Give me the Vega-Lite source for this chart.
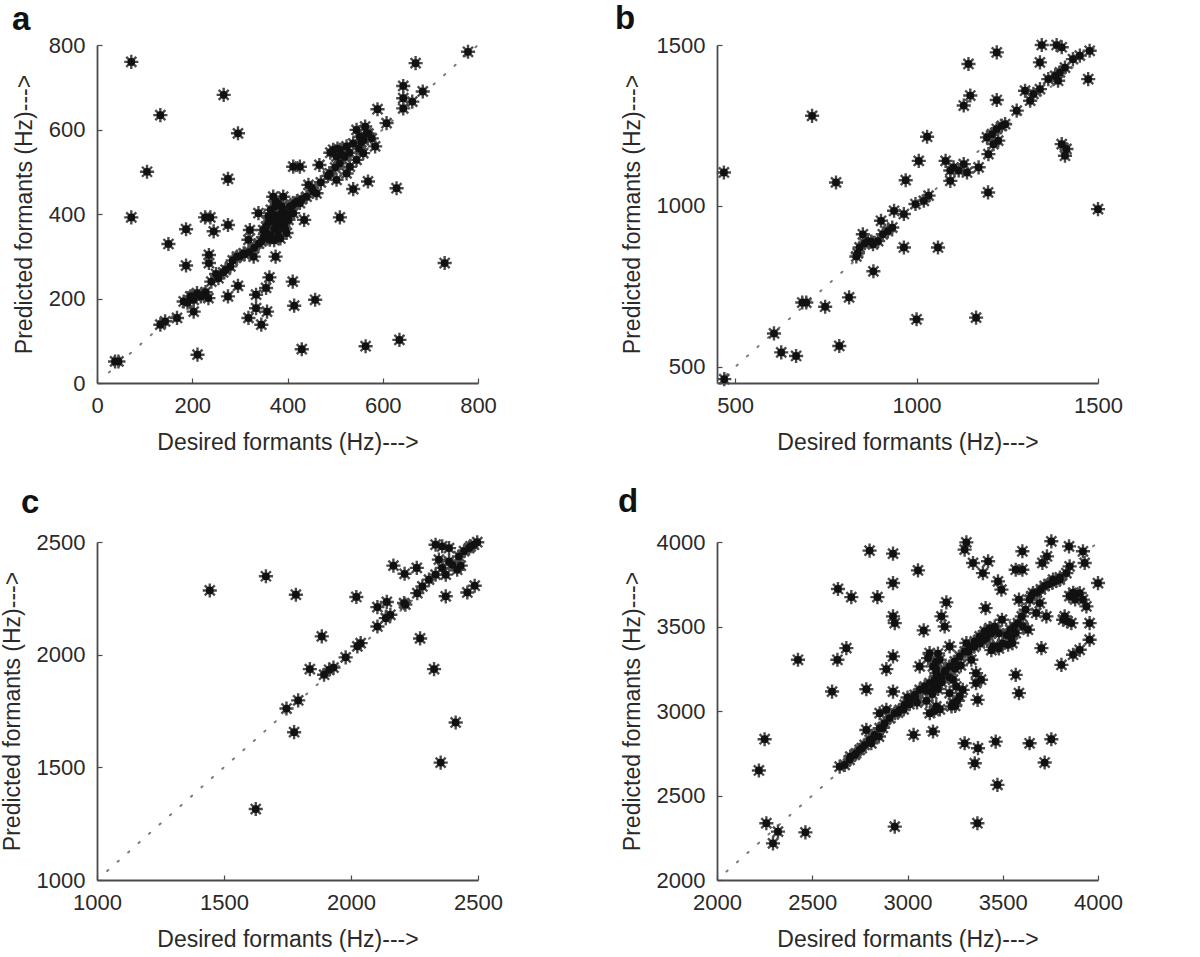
{
  "$schema": "https://vega.github.io/schema/vega-lite/v6.json",
  "autosize": {"type": "none"},
  "padding": {"left": 97, "top": 45, "right": 1103, "bottom": 912},
  "background": "white",
  "config": {
    "view": {"stroke": null},
    "font": "Liberation Sans",
    "axis": {
      "grid": false,
      "domainColor": "#4a4a4a",
      "domainWidth": 1.8,
      "tickColor": "#4a4a4a",
      "tickSize": -5,
      "tickWidth": 1.2,
      "labelFont": "Liberation Sans",
      "labelFontSize": 22,
      "labelColor": "#2a2a2a",
      "labelFlush": false,
      "labelOverlap": false,
      "labelPadding": 17,
      "format": "d",
      "titleFont": "Liberation Sans",
      "titleFontSize": 23,
      "titleFontWeight": "normal",
      "titleColor": "#2a2a2a",
      "titlePadding": 12
    },
    "axisX": {"titlePadding": 15},
    "title": {"font": "Liberation Sans", "fontSize": 33, "fontWeight": "bold", "color": "#111111", "anchor": "start", "frame": "group", "baseline": "alphabetic"},
    "point": {"opacity": 1}
  },
  "datasets": {
    "a": [
      {"desired":72,"predicted":760},{"desired":266,"predicted":682},{"desired":133,"predicted":634},{"desired":296,"predicted":591},{"desired":105,"predicted":500},{"desired":275,"predicted":483},{"desired":72,"predicted":392},{"desired":275,"predicted":374},{"desired":238,"predicted":392},{"desired":227,"predicted":392},{"desired":245,"predicted":359},{"desired":187,"predicted":364},{"desired":150,"predicted":329},{"desired":187,"predicted":278},{"desired":235,"predicted":303},{"desired":235,"predicted":284},{"desired":275,"predicted":205},{"desired":296,"predicted":230},{"desired":203,"predicted":169},{"desired":211,"predicted":67},{"desired":318,"predicted":154},{"desired":334,"predicted":177},{"desired":345,"predicted":138},{"desired":357,"predicted":169},{"desired":355,"predicted":225},{"desired":334,"predicted":209},{"desired":362,"predicted":250},{"desired":375,"predicted":299},{"desired":411,"predicted":240},{"desired":414,"predicted":183},{"desired":458,"predicted":197},{"desired":435,"predicted":386},{"desired":430,"predicted":80},{"desired":510,"predicted":392},{"desired":538,"predicted":459},{"desired":569,"predicted":477},{"desired":629,"predicted":461},{"desired":564,"predicted":87},{"desired":635,"predicted":102},{"desired":730,"predicted":284},{"desired":589,"predicted":648},{"desired":608,"predicted":615},{"desired":643,"predicted":703},{"desired":643,"predicted":674},{"desired":643,"predicted":650},{"desired":662,"predicted":666},{"desired":669,"predicted":757},{"desired":684,"predicted":690},{"desired":779,"predicted":784},{"desired":524,"predicted":496},{"desired":584,"predicted":560},{"desired":563,"predicted":607},{"desired":467,"predicted":516},{"desired":426,"predicted":512},
      {"desired":38,"predicted":51},{"desired":45,"predicted":51},{"desired":133,"predicted":138},{"desired":143,"predicted":146},{"desired":168,"predicted":154},{"desired":182,"predicted":193},{"desired":196,"predicted":205},{"desired":210,"predicted":213},{"desired":224,"predicted":209},{"desired":234,"predicted":201},{"desired":203,"predicted":197},{"desired":255,"predicted":248},{"desired":280,"predicted":276},{"desired":294,"predicted":299},{"desired":308,"predicted":307},{"desired":329,"predicted":299},{"desired":318,"predicted":339},{"desired":321,"predicted":362},{"desired":339,"predicted":402},
      {"desired":356,"predicted":355},{"desired":367,"predicted":386},{"desired":377,"predicted":394},{"desired":384,"predicted":370},{"desired":395,"predicted":402},{"desired":370,"predicted":441},{"desired":391,"predicted":441},{"desired":405,"predicted":418},{"desired":412,"predicted":402},{"desired":426,"predicted":426},{"desired":440,"predicted":441},{"desired":451,"predicted":461},{"desired":461,"predicted":449},{"desired":398,"predicted":355},{"desired":381,"predicted":347},{"desired":363,"predicted":339},{"desired":349,"predicted":362},{"desired":374,"predicted":418},{"desired":388,"predicted":418},{"desired":402,"predicted":386},{"desired":388,"predicted":386},
      {"desired":489,"predicted":496},{"desired":503,"predicted":481},{"desired":496,"predicted":552},{"desired":510,"predicted":552},{"desired":524,"predicted":560},{"desired":503,"predicted":536},{"desired":538,"predicted":567},{"desired":552,"predicted":583},{"desired":559,"predicted":544},{"desired":545,"predicted":528},{"desired":531,"predicted":512},{"desired":566,"predicted":591},{"desired":545,"predicted":599},{"desired":577,"predicted":579},{"desired":412,"predicted":512},{"desired":444,"predicted":469},{"desired":454,"predicted":453},{"desired":470,"predicted":475},{"desired":485,"predicted":490},{"desired":340,"predicted":330},{"desired":360,"predicted":380},{"desired":372,"predicted":365},{"desired":415,"predicted":425},{"desired":430,"predicted":435},{"desired":265,"predicted":262},{"desired":240,"predicted":240},
      {"desired":300,"predicted":300},{"desired":310,"predicted":305},{"desired":320,"predicted":310},{"desired":330,"predicted":320},{"desired":345,"predicted":335},{"desired":350,"predicted":345},{"desired":355,"predicted":370},{"desired":360,"predicted":395},{"desired":365,"predicted":410},{"desired":370,"predicted":400},{"desired":375,"predicted":380},{"desired":380,"predicted":360},{"desired":385,"predicted":400},{"desired":390,"predicted":410},{"desired":395,"predicted":380},{"desired":400,"predicted":395},{"desired":405,"predicted":400},{"desired":410,"predicted":420},{"desired":420,"predicted":430},{"desired":380,"predicted":425},{"desired":375,"predicted":430},{"desired":365,"predicted":350},{"desired":358,"predicted":342},{"desired":372,"predicted":338},{"desired":385,"predicted":342},{"desired":395,"predicted":365},{"desired":228,"predicted":215},{"desired":218,"predicted":205},{"desired":190,"predicted":190},{"desired":200,"predicted":205},{"desired":500,"predicted":510},{"desired":510,"predicted":520},{"desired":515,"predicted":540},{"desired":520,"predicted":535},{"desired":530,"predicted":545},{"desired":550,"predicted":555},{"desired":555,"predicted":570},{"desired":560,"predicted":575},{"desired":570,"predicted":590},{"desired":505,"predicted":555},{"desired":490,"predicted":545},{"desired":250,"predicted":258},{"desired":270,"predicted":268},{"desired":285,"predicted":290}
    ],
    "a_diag": [{"desired":25,"predicted":25},{"desired":800,"predicted":800}],
    "b": [
      {"desired":469,"predicted":1104},{"desired":712,"predicted":1280},{"desired":778,"predicted":1073},{"desired":685,"predicted":700},{"desired":696,"predicted":700},{"desired":748,"predicted":687},{"desired":607,"predicted":604},{"desired":627,"predicted":545},{"desired":668,"predicted":534},{"desired":787,"predicted":565},{"desired":814,"predicted":716},{"desired":881,"predicted":797},{"desired":965,"predicted":871},{"desired":1059,"predicted":871},{"desired":1000,"predicted":648},{"desired":1164,"predicted":653},{"desired":970,"predicted":1080},{"desired":1006,"predicted":1140},{"desired":1029,"predicted":1215},{"desired":1080,"predicted":1140},{"desired":1171,"predicted":1120},{"desired":1197,"predicted":1042},{"desired":1143,"predicted":1441},{"desired":1221,"predicted":1477},{"desired":1148,"predicted":1343},{"desired":1130,"predicted":1312},{"desired":1221,"predicted":1329},{"desired":1345,"predicted":1500},{"desired":1340,"predicted":1446},{"desired":1386,"predicted":1500},{"desired":1400,"predicted":1493},{"desired":1473,"predicted":1394},{"desired":1500,"predicted":990},{"desired":1400,"predicted":1192},{"desired":1413,"predicted":1177},{"desired":1409,"predicted":1156},{"desired":1198,"predicted":1161},
      {"desired":834,"predicted":843},{"desired":843,"predicted":871},{"desired":852,"predicted":912},{"desired":866,"predicted":891},{"desired":880,"predicted":881},{"desired":894,"predicted":891},{"desired":907,"predicted":912},{"desired":921,"predicted":922},{"desired":902,"predicted":954},{"desired":938,"predicted":985},{"desired":965,"predicted":975},{"desired":997,"predicted":1006},{"desired":1020,"predicted":1016},{"desired":1033,"predicted":1032},{"desired":838,"predicted":853},{"desired":857,"predicted":884},{"desired":875,"predicted":889},{"desired":933,"predicted":933},
      {"desired":1093,"predicted":1078},{"desired":1102,"predicted":1120},{"desired":1116,"predicted":1110},{"desired":1130,"predicted":1130},{"desired":1139,"predicted":1104},{"desired":1093,"predicted":1110},
      {"desired":1194,"predicted":1213},{"desired":1208,"predicted":1223},{"desired":1221,"predicted":1239},{"desired":1235,"predicted":1249},{"desired":1244,"predicted":1254},{"desired":1225,"predicted":1203},{"desired":1212,"predicted":1192},
      {"desired":1276,"predicted":1296},{"desired":1299,"predicted":1358},{"desired":1313,"predicted":1327},{"desired":1322,"predicted":1348},{"desired":1340,"predicted":1363},{"desired":1363,"predicted":1394},{"desired":1382,"predicted":1404},{"desired":1395,"predicted":1415},{"desired":1409,"predicted":1430},{"desired":1431,"predicted":1456},{"desired":1450,"predicted":1467},{"desired":1477,"predicted":1482},{"desired":1390,"predicted":1389},
      {"desired":470,"predicted":462}
    ],
    "b_diag": [{"desired":475,"predicted":475},{"desired":1500,"predicted":1500}],
    "c": [
      {"desired":1444,"predicted":2285},{"desired":1665,"predicted":2348},{"desired":1783,"predicted":2266},{"desired":1625,"predicted":1315},{"desired":1885,"predicted":2081},{"desired":1838,"predicted":1936},{"desired":1776,"predicted":1656},{"desired":1746,"predicted":1761},{"desired":1792,"predicted":1797},{"desired":2021,"predicted":2256},{"desired":2104,"predicted":2211},{"desired":2141,"predicted":2234},{"desired":2167,"predicted":2395},{"desired":2211,"predicted":2359},{"desired":2259,"predicted":2385},{"desired":2272,"predicted":2072},{"desired":2327,"predicted":1936},{"desired":2353,"predicted":1521},{"desired":2412,"predicted":1699},{"desired":2373,"predicted":2259},{"desired":2458,"predicted":2276},{"desired":2487,"predicted":2306},{"desired":2432,"predicted":2395},
      {"desired":1894,"predicted":1911},{"desired":1914,"predicted":1933},{"desired":1931,"predicted":1943},{"desired":1979,"predicted":1988},{"desired":2025,"predicted":2037},{"desired":2038,"predicted":2051},{"desired":2104,"predicted":2125},{"desired":2137,"predicted":2162},{"desired":2155,"predicted":2177},{"desired":2214,"predicted":2222},{"desired":2261,"predicted":2273},{"desired":2281,"predicted":2303},{"desired":2307,"predicted":2333},{"desired":2333,"predicted":2355},{"desired":2359,"predicted":2385},{"desired":2386,"predicted":2414},{"desired":2399,"predicted":2399},{"desired":2418,"predicted":2377},{"desired":2425,"predicted":2436},{"desired":2445,"predicted":2459},{"desired":2465,"predicted":2473},{"desired":2484,"predicted":2488},{"desired":2497,"predicted":2499},{"desired":2471,"predicted":2481},{"desired":2333,"predicted":2488},{"desired":2359,"predicted":2481},{"desired":2386,"predicted":2473},{"desired":2346,"predicted":2422},{"desired":2373,"predicted":2355},{"desired":2209,"predicted":2229}
    ],
    "c_diag": [{"desired":1040,"predicted":1040},{"desired":2500,"predicted":2500}],
    "d": [
      {"desired":2220,"predicted":2648},{"desired":2250,"predicted":2833},{"desired":2259,"predicted":2336},{"desired":2320,"predicted":2286},{"desired":2294,"predicted":2217},{"desired":2464,"predicted":2282},{"desired":2425,"predicted":3303},{"desired":2604,"predicted":3115},{"desired":2632,"predicted":3303},{"desired":2635,"predicted":3722},{"desired":2705,"predicted":3674},{"desired":2679,"predicted":3372},{"desired":2801,"predicted":3949},{"desired":2784,"predicted":3129},{"desired":2842,"predicted":3674},{"desired":2889,"predicted":3248},{"desired":2924,"predicted":3931},{"desired":2924,"predicted":3757},{"desired":2924,"predicted":3560},{"desired":2933,"predicted":3520},{"desired":2924,"predicted":3323},{"desired":2924,"predicted":3115},{"desired":2933,"predicted":2316},{"desired":2810,"predicted":2809},{"desired":2850,"predicted":2849},{"desired":3055,"predicted":3832},{"desired":3032,"predicted":2859},{"desired":3085,"predicted":3477},{"desired":3204,"predicted":3643},{"desired":3300,"predicted":3955},{"desired":3309,"predicted":3998},{"desired":3344,"predicted":3876},{"desired":3423,"predicted":3886},{"desired":3396,"predicted":3816},{"desired":3410,"predicted":3609},{"desired":3300,"predicted":2809},{"desired":3370,"predicted":2780},{"desired":3353,"predicted":2691},{"desired":3367,"predicted":2336},{"desired":3463,"predicted":2819},{"desired":3472,"predicted":2563},{"desired":3641,"predicted":2809},{"desired":3720,"predicted":2695},{"desired":3755,"predicted":2833},{"desired":3568,"predicted":3214},{"desired":3585,"predicted":3106},{"desired":3703,"predicted":3372},{"desired":3755,"predicted":4004},{"desired":3603,"predicted":3945},{"desired":3848,"predicted":3974},{"desired":3921,"predicted":3945},{"desired":3930,"predicted":3876},{"desired":3939,"predicted":3619},{"desired":3956,"predicted":3520},{"desired":3956,"predicted":3422},{"desired":4000,"predicted":3757},{"desired":3808,"predicted":3273},{"desired":3869,"predicted":3333},{"desired":3904,"predicted":3362},{"desired":3817,"predicted":3540},{"desired":3825,"predicted":3560},{"desired":3708,"predicted":3876},{"desired":3732,"predicted":3915},{"desired":3799,"predicted":3777},{"desired":3834,"predicted":3816},{"desired":3851,"predicted":3856},{"desired":3904,"predicted":3698},{"desired":3921,"predicted":3659},{"desired":3869,"predicted":3678},{"desired":3659,"predicted":3698},{"desired":3694,"predicted":3639},{"desired":3729,"predicted":3560},{"desired":3764,"predicted":3777},{"desired":3641,"predicted":3659},{"desired":3676,"predicted":3580},{"desired":3606,"predicted":3501},{"desired":3632,"predicted":3481},{"desired":3568,"predicted":3461},{"desired":3550,"predicted":3402},{"desired":3585,"predicted":3659},{"desired":3568,"predicted":3836},{"desired":3603,"predicted":3836},{"desired":3475,"predicted":3767},{"desired":3493,"predicted":3718},{"desired":3475,"predicted":3382},{"desired":3496,"predicted":3540},{"desired":3178,"predicted":3560},{"desired":3195,"predicted":3500},{"desired":3221,"predicted":3382},{"desired":3134,"predicted":3135},{"desired":3117,"predicted":2987},{"desired":3134,"predicted":2879},{"desired":3151,"predicted":3027},{"desired":3231,"predicted":3027},{"desired":3239,"predicted":3047},{"desired":3290,"predicted":3125},{"desired":3360,"predicted":3165},{"desired":3368,"predicted":3066},
      {"desired":2644,"predicted":2671},{"desired":2670,"predicted":2681},{"desired":2696,"predicted":2711},{"desired":2723,"predicted":2740},{"desired":2749,"predicted":2770},{"desired":2775,"predicted":2800},{"desired":2801,"predicted":2829},{"desired":2828,"predicted":2859},{"desired":2854,"predicted":2898},{"desired":2880,"predicted":2928},{"desired":2906,"predicted":2958},{"desired":2933,"predicted":2987},{"desired":2959,"predicted":3007},{"desired":2985,"predicted":3037},{"desired":3011,"predicted":3066},{"desired":3038,"predicted":3096},{"desired":3064,"predicted":3125},{"desired":3090,"predicted":3145},{"desired":3116,"predicted":3165},{"desired":3143,"predicted":3185},{"desired":3169,"predicted":3204},{"desired":3195,"predicted":3234},{"desired":3221,"predicted":3264},{"desired":3248,"predicted":3293},{"desired":3274,"predicted":3323},{"desired":3300,"predicted":3352},{"desired":3326,"predicted":3382},{"desired":3353,"predicted":3412},{"desired":3379,"predicted":3441},{"desired":3405,"predicted":3471},{"desired":3431,"predicted":3491},{"desired":3458,"predicted":3500},
      {"desired":3134,"predicted":3264},{"desired":3151,"predicted":3224},{"desired":3169,"predicted":3303},{"desired":3116,"predicted":3343},{"desired":3239,"predicted":3185},{"desired":3256,"predicted":3145},{"desired":3274,"predicted":3086},{"desired":3221,"predicted":3106},{"desired":3309,"predicted":3402},{"desired":3335,"predicted":3303},{"desired":3360,"predicted":3224},{"desired":3386,"predicted":3185},{"desired":2889,"predicted":3007},{"desired":2854,"predicted":2987},{"desired":2784,"predicted":2888},{"desired":3064,"predicted":3264},{"desired":3108,"predicted":3313},{"desired":3414,"predicted":3431},{"desired":3449,"predicted":3382},{"desired":3528,"predicted":3392},{"desired":3545,"predicted":3432},
      {"desired":3000,"predicted":3080},{"desired":3050,"predicted":3050},{"desired":3100,"predicted":3120},{"desired":3150,"predicted":3150},{"desired":3150,"predicted":3250},{"desired":3180,"predicted":3200},{"desired":3200,"predicted":3240},{"desired":3220,"predicted":3200},{"desired":3250,"predicted":3250},{"desired":3280,"predicted":3270},{"desired":3320,"predicted":3350},{"desired":3350,"predicted":3380},{"desired":3380,"predicted":3400},{"desired":3400,"predicted":3420},{"desired":3420,"predicted":3450},{"desired":3440,"predicted":3460},{"desired":3460,"predicted":3480},{"desired":3480,"predicted":3460},{"desired":3100,"predicted":3060},{"desired":3130,"predicted":3100},{"desired":3160,"predicted":3130},{"desired":3180,"predicted":3170},{"desired":2700,"predicted":2730},{"desired":2730,"predicted":2750},{"desired":2760,"predicted":2780},{"desired":2820,"predicted":2840},{"desired":2870,"predicted":2900},{"desired":2950,"predicted":2990},{"desired":2980,"predicted":3010},{"desired":3010,"predicted":3040},{"desired":3040,"predicted":3080},{"desired":3680,"predicted":3700},{"desired":3700,"predicted":3720},{"desired":3720,"predicted":3740},{"desired":3740,"predicted":3750},{"desired":3760,"predicted":3760},{"desired":3780,"predicted":3770},{"desired":3800,"predicted":3790},{"desired":3650,"predicted":3680},{"desired":3620,"predicted":3600},{"desired":3600,"predicted":3560},{"desired":3580,"predicted":3520},{"desired":3560,"predicted":3500},{"desired":3540,"predicted":3480},{"desired":3520,"predicted":3450},{"desired":3500,"predicted":3400},{"desired":3480,"predicted":3370},{"desired":3440,"predicted":3360},{"desired":3850,"predicted":3680},{"desired":3880,"predicted":3660},{"desired":3870,"predicted":3700},{"desired":3860,"predicted":3520},{"desired":3840,"predicted":3530},{"desired":3150,"predicted":3290},{"desired":3160,"predicted":3340},{"desired":3140,"predicted":3000},{"desired":3170,"predicted":3010},{"desired":3250,"predicted":3030},{"desired":3260,"predicted":3060}
    ],
    "d_diag": [{"desired":2050,"predicted":2050},{"desired":4000,"predicted":4000}]
  },
  "concat": [
    {
      "width": 381, "height": 338,
      "title": {"text": "a", "dx": -85, "offset": -3},
      "layer": [
        {
          "data": {"name": "a_diag"},
          "mark": {"type": "line", "color": "#7a7a7a", "strokeWidth": 2, "strokeDash": [1.5, 12.5], "strokeCap": "round"},
          "encoding": {
            "x": {"field": "desired", "type": "quantitative", "scale": {"domain": [0, 800], "nice": false, "zero": false}, "axis": {"values": [0, 200, 400, 600, 800], "title": "Desired formants (Hz)--->"}},
            "y": {"field": "predicted", "type": "quantitative", "scale": {"domain": [0, 800], "nice": false, "zero": false}, "axis": {"values": [0, 200, 400, 600, 800], "title": "Predicted formants (Hz)--->"}}
          }
        },
        {
          "data": {"name": "a"},
          "mark": {"type": "point", "shape": "M-1,0L1,0M0,-1L0,1M-0.71,-0.71L0.71,0.71M-0.71,0.71L0.71,-0.71", "filled": false, "stroke": "#4a4a4a", "strokeWidth": 2.4, "size": 200, "opacity": 1},
          "encoding": {"x": {"field": "desired", "type": "quantitative"}, "y": {"field": "predicted", "type": "quantitative"}}
        },
        {
          "data": {"name": "a"},
          "mark": {"type": "circle", "color": "#111111", "size": 60, "opacity": 1},
          "encoding": {"x": {"field": "desired", "type": "quantitative"}, "y": {"field": "predicted", "type": "quantitative"}}
        }
      ]
    },
    {
      "width": 381, "height": 338,
      "title": {"text": "b", "dx": -102, "offset": -3},
      "layer": [
        {
          "data": {"name": "b_diag"},
          "mark": {"type": "line", "color": "#7a7a7a", "strokeWidth": 2, "strokeDash": [1.5, 12.5], "strokeCap": "round"},
          "encoding": {
            "x": {"field": "desired", "type": "quantitative", "scale": {"domain": [450, 1500], "nice": false, "zero": false}, "axis": {"values": [500, 1000, 1500], "title": "Desired formants (Hz)--->"}},
            "y": {"field": "predicted", "type": "quantitative", "scale": {"domain": [450, 1500], "nice": false, "zero": false}, "axis": {"values": [500, 1000, 1500], "title": "Predicted formants (Hz)--->"}}
          }
        },
        {
          "data": {"name": "b"},
          "mark": {"type": "point", "shape": "M-1,0L1,0M0,-1L0,1M-0.71,-0.71L0.71,0.71M-0.71,0.71L0.71,-0.71", "filled": false, "stroke": "#4a4a4a", "strokeWidth": 2.4, "size": 200, "opacity": 1},
          "encoding": {"x": {"field": "desired", "type": "quantitative"}, "y": {"field": "predicted", "type": "quantitative"}}
        },
        {
          "data": {"name": "b"},
          "mark": {"type": "circle", "color": "#111111", "size": 60, "opacity": 1},
          "encoding": {"x": {"field": "desired", "type": "quantitative"}, "y": {"field": "predicted", "type": "quantitative"}}
        }
      ]
    },
    {
      "width": 381, "height": 338,
      "title": {"text": "c", "dx": -76, "offset": 10},
      "layer": [
        {
          "data": {"name": "c_diag"},
          "mark": {"type": "line", "color": "#7a7a7a", "strokeWidth": 2, "strokeDash": [1.5, 12.5], "strokeCap": "round"},
          "encoding": {
            "x": {"field": "desired", "type": "quantitative", "scale": {"domain": [1000, 2500], "nice": false, "zero": false}, "axis": {"values": [1000, 1500, 2000, 2500], "title": "Desired formants (Hz)--->"}},
            "y": {"field": "predicted", "type": "quantitative", "scale": {"domain": [1000, 2500], "nice": false, "zero": false}, "axis": {"values": [1000, 1500, 2000, 2500], "title": "Predicted formants (Hz)--->"}}
          }
        },
        {
          "data": {"name": "c"},
          "mark": {"type": "point", "shape": "M-1,0L1,0M0,-1L0,1M-0.71,-0.71L0.71,0.71M-0.71,0.71L0.71,-0.71", "filled": false, "stroke": "#4a4a4a", "strokeWidth": 2.4, "size": 200, "opacity": 1},
          "encoding": {"x": {"field": "desired", "type": "quantitative"}, "y": {"field": "predicted", "type": "quantitative"}}
        },
        {
          "data": {"name": "c"},
          "mark": {"type": "circle", "color": "#111111", "size": 60, "opacity": 1},
          "encoding": {"x": {"field": "desired", "type": "quantitative"}, "y": {"field": "predicted", "type": "quantitative"}}
        }
      ]
    },
    {
      "width": 381, "height": 338,
      "title": {"text": "d", "dx": -99, "offset": 10},
      "layer": [
        {
          "data": {"name": "d_diag"},
          "mark": {"type": "line", "color": "#7a7a7a", "strokeWidth": 2, "strokeDash": [1.5, 12.5], "strokeCap": "round"},
          "encoding": {
            "x": {"field": "desired", "type": "quantitative", "scale": {"domain": [2000, 4000], "nice": false, "zero": false}, "axis": {"values": [2000, 2500, 3000, 3500, 4000], "title": "Desired formants (Hz)--->"}},
            "y": {"field": "predicted", "type": "quantitative", "scale": {"domain": [2000, 4000], "nice": false, "zero": false}, "axis": {"values": [2000, 2500, 3000, 3500, 4000], "title": "Predicted formants (Hz)--->"}}
          }
        },
        {
          "data": {"name": "d"},
          "mark": {"type": "point", "shape": "M-1,0L1,0M0,-1L0,1M-0.71,-0.71L0.71,0.71M-0.71,0.71L0.71,-0.71", "filled": false, "stroke": "#4a4a4a", "strokeWidth": 2.4, "size": 200, "opacity": 1},
          "encoding": {"x": {"field": "desired", "type": "quantitative"}, "y": {"field": "predicted", "type": "quantitative"}}
        },
        {
          "data": {"name": "d"},
          "mark": {"type": "circle", "color": "#111111", "size": 60, "opacity": 1},
          "encoding": {"x": {"field": "desired", "type": "quantitative"}, "y": {"field": "predicted", "type": "quantitative"}}
        }
      ]
    }
  ],
  "columns": 2,
  "spacing": {"row": 159, "column": 239},
  "bounds": "flush"
}
